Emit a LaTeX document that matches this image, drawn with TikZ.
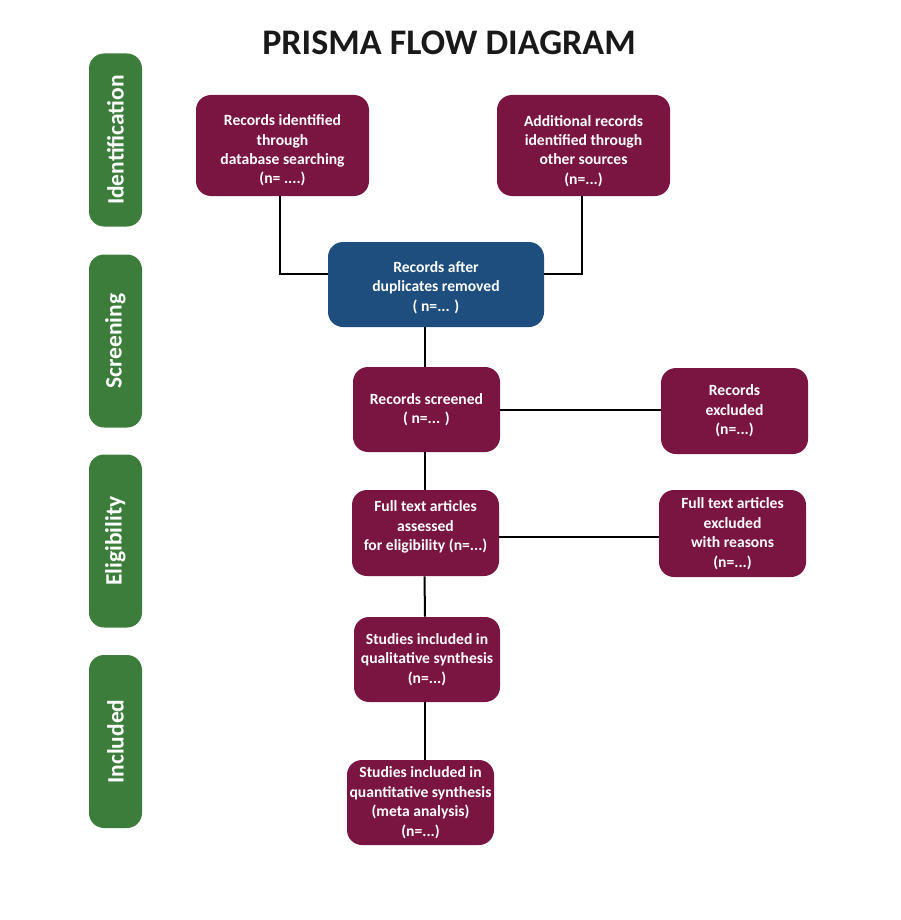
\documentclass[tikz,border=0pt]{standalone}
\usepackage{fontspec}
\setmainfont{Carlito}
\definecolor{maroon}{HTML}{7A1541}
\definecolor{navy}{HTML}{1D4E7E}
\definecolor{leaf}{HTML}{3C7D3B}
\tikzset{
  box/.style={fill=maroon, rounded corners=15*0.75pt, text=white, font=\bfseries\fontsize{11.7pt}{14.6pt}\selectfont, align=center, inner sep=0pt, minimum width={#1*0.75pt}},
  bh/.style={minimum height={#1*0.75pt}},
  side/.style={fill=leaf, rounded corners=15*0.75pt, text=white, font=\bfseries\fontsize{17.6pt}{20pt}\selectfont, rotate=90, inner sep=0pt, minimum width=173*0.75pt, minimum height=53*0.75pt},
  link/.style={line width=1.5pt, black}
}
\begin{document}
\begin{tikzpicture}[x=0.75pt, y=-0.75pt]
\useasboundingbox (0,0) rectangle (900,920);
\node[font=\bfseries\fontsize{27pt}{32pt}\selectfont, text=black!90] (title) at (449,43) {PRISMA FLOW DIAGRAM};
\node[side] (s1) at (115.5,140) {Identification};
\node[side] (s2) at (115.5,341) {Screening};
\node[side] (s3) at (115.5,541) {Eligibility};
\node[side] (s4) at (115.5,741.5) {Included};

\node[box=173, bh=101] (b1) at (282.5,145.5) {Records identified\\through\\database searching\\(n= ....)\\[-20.3pt]};
\node[box=173, bh=101] (b2) at (583.5,145.5) {Additional records\\identified through\\other sources\\(n=...)\\[-21pt]};
\node[box=216, bh=85, fill=navy] (b3) at (436,284.5) {Records after\\duplicates removed\\( n=... )\\[-17.6pt]};
\node[box=147, bh=85] (b4) at (426.5,409.5) {Records screened\\( n=... )};
\node[box=147, bh=86] (b5) at (734.5,411) {Records\\excluded\\(n=...)};
\node[box=147, bh=86] (b6) at (425.5,533) {Full text articles\\assessed\\for eligibility (n=...)\\[-3.6pt]};
\node[box=147, bh=87] (b7) at (732.5,533.5) {Full text articles\\excluded\\with reasons\\(n=...)};
\node[box=146, bh=85] (b8) at (427,659.5) {Studies included in\\qualitative synthesis\\(n=...)};
\node[box=147, bh=85] (b9) at (420.5,802.5) {Studies included in\\quantitative synthesis\\(meta analysis)\\(n=...)};

\draw[link] (b1.south) ++(-2.5,0) coordinate (c1) |- ([yshift=7.9pt]b3.west);
\draw[link] (b2.south) ++(-1.5,0) coordinate (c2) |- ([yshift=7.9pt]b3.east);
\draw[link] ([xshift=-1.5*0.75pt]b3.south -| b4.north) -- ([xshift=-1.5*0.75pt]b4.north);
\draw[link] (b4.east) -- (b4.east -| b5.west);
\draw[link] ([xshift=-1.5*0.75pt]b4.south) -- ([xshift=-0.5*0.75pt]b6.north);
\draw[link] ([yshift=-3pt]b6.east) -- ([yshift=-3pt]b6.east -| b7.west);
\draw[link] ([xshift=-1*0.75pt]b6.south) -- ([xshift=-2*0.75pt]b8.north);
\draw[link] ([xshift=-2*0.75pt]b8.south) -- ([xshift=4.5*0.75pt]b9.north);
\end{tikzpicture}
\end{document}
